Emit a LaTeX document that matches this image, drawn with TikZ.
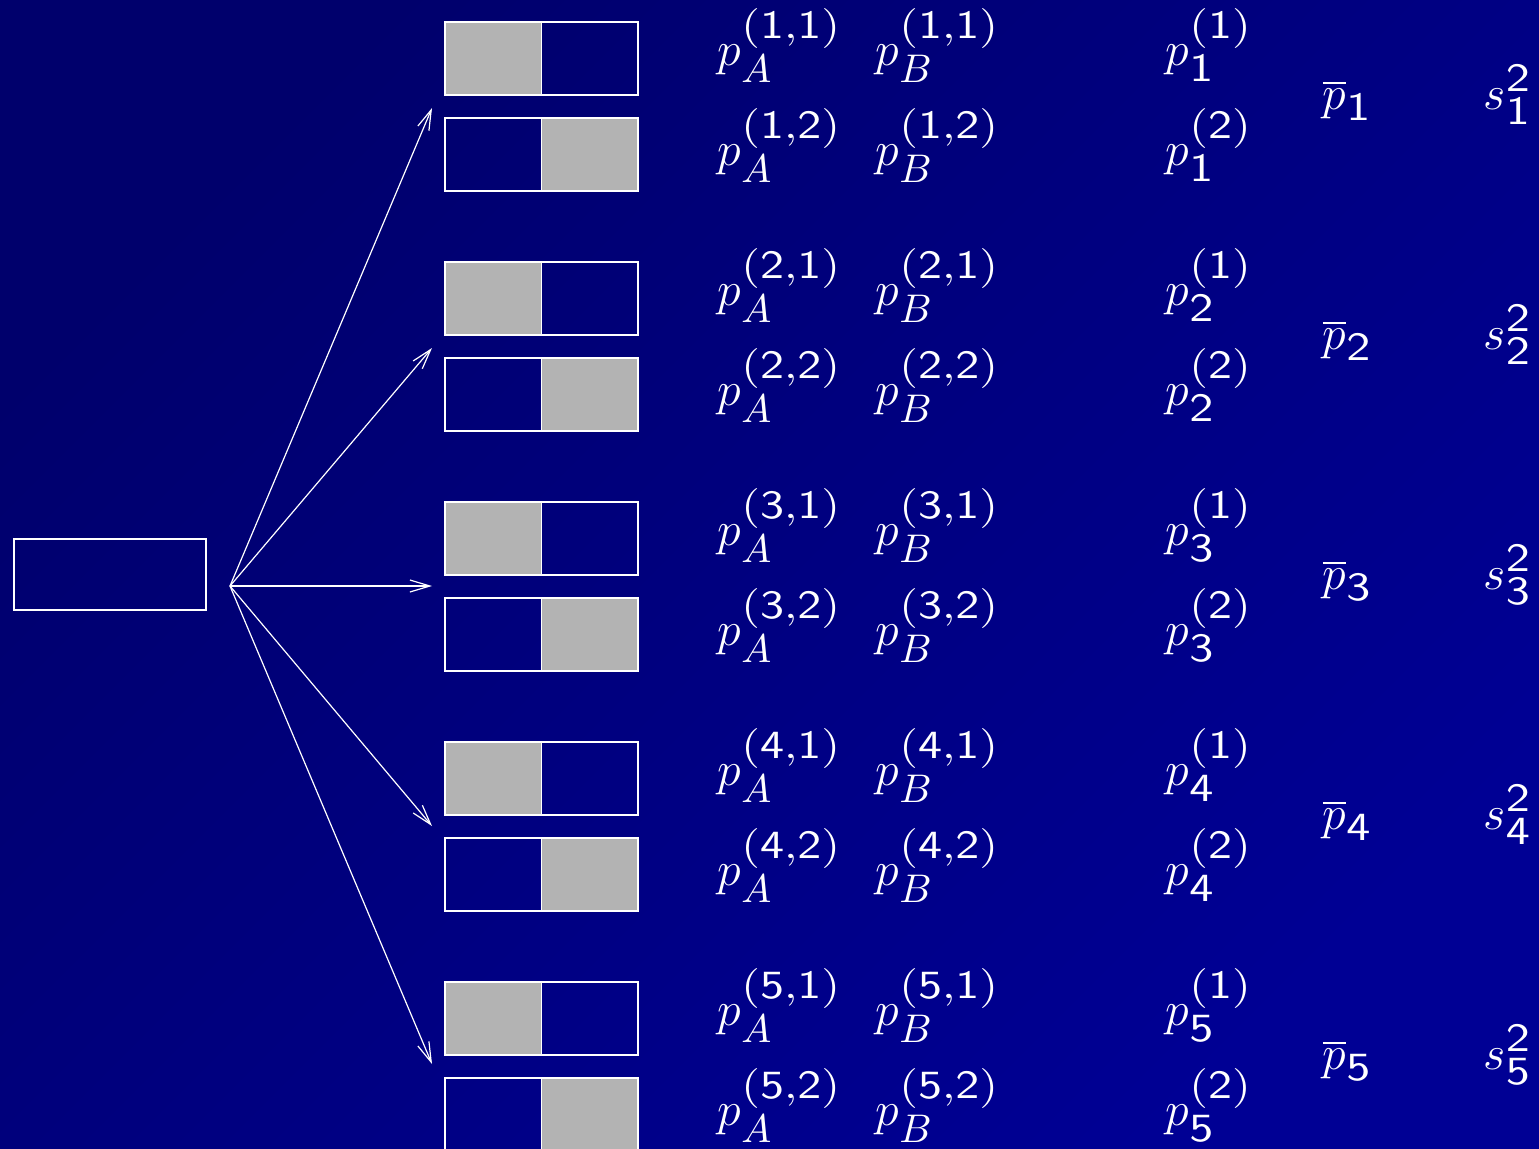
\documentclass[tikz,border=0pt]{standalone}
\usepackage{graphicx}
\usetikzlibrary{arrows.meta}
\DeclareMathSizes{12}{12}{10}{7}
\definecolor{bgtop}{HTML}{00006C}
\definecolor{bgbot}{HTML}{000094}
\definecolor{halfgray}{HTML}{B3B3B3}
\newcommand{\wsc}[1]{\scalebox{1.2}[1]{$\scriptstyle\mathsf{#1}$}}
\pgfdeclarelayer{shadelayer}
\pgfdeclarelayer{filllayer}
\pgfsetlayers{shadelayer,filllayer,main}
\tikzset{
  slot/.style={draw=white, line width=0.375pt, minimum width=48.25pt, minimum height=18.25pt, inner sep=0pt},
  srcbox/.style={draw=white, line width=0.375pt, minimum width=48pt, minimum height=17.75pt, inner sep=0pt},
  lab/.style={text=white, inner sep=0pt, anchor=base west, font=\fontsize{12}{14}\selectfont},
  fanarrow/.style={draw=white, line width=0.3pt, -{Straight Barb[length=5pt,width=3pt,line width=0.3pt]}},
}
\begin{document}
\begin{tikzpicture}[x=0.25pt,y=-0.25pt]
\useasboundingbox (0,0) rectangle (1539,1148);
\clip (0,0) rectangle (1539,1148);
\begin{pgfonlayer}{shadelayer}
  \shade[top color=bgtop, bottom color=bgbot, shading angle=45] (0,0) rectangle (1539,1148);
\end{pgfonlayer}
\node[srcbox] (src) at (110,574.5) {};
\coordinate (o) at (230,586);
\foreach \k/\yt in {1/108,2/348,3/586,4/826,5/1064}{
  \pgfmathsetmacro{\ya}{58.5+240*(\k-1)}
  \pgfmathsetmacro{\yb}{154.5+240*(\k-1)}
  \pgfmathsetmacro{\ra}{65+240*(\k-1)}
  \pgfmathsetmacro{\rb}{165+240*(\k-1)}
  \pgfmathsetmacro{\rm}{109+240*(\k-1)}
  \node[slot] (s\k a) at (541.5,\ya) {};
  \node[slot] (s\k b) at (541.5,\yb) {};
  \begin{pgfonlayer}{filllayer}
    \fill[halfgray] (s\k a.north west) rectangle (s\k a.south);
    \fill[halfgray] (s\k b.north) rectangle (s\k b.south east);
  \end{pgfonlayer}
  \draw[white, line width=0.375pt] (s\k a.north) -- (s\k a.south);
  \draw[white, line width=0.375pt] (s\k b.north) -- (s\k b.south);
  \coordinate (t\k) at (432,\yt);
  \draw[fanarrow] (o) -- (t\k);
  \node[lab] (pa\k1) at (717,\ra) {$p_A^{\wsc{(\k,1)}}$};
  \node[lab] (pb\k1) at (875,\ra) {$p_B^{\wsc{(\k,1)}}$};
  \node[lab] (pa\k2) at (717,\rb) {$p_A^{\wsc{(\k,2)}}$};
  \node[lab] (pb\k2) at (875,\rb) {$p_B^{\wsc{(\k,2)}}$};
  \node[lab] (pi\k1) at (1165,\ra) {$p_{\wsc{\k}}^{\wsc{(1)}}$};
  \node[lab] (pi\k2) at (1165,\rb) {$p_{\wsc{\k}}^{\wsc{(2)}}$};
  \node[lab] (pm\k) at (1322,\rm) {$\overline{p}_{\wsc{\k}}$};
  \node[lab] (sv\k) at (1483,\rm) {$s_{\wsc{\k}}^{\wsc{2}}$};
}
\end{tikzpicture}
\end{document}
